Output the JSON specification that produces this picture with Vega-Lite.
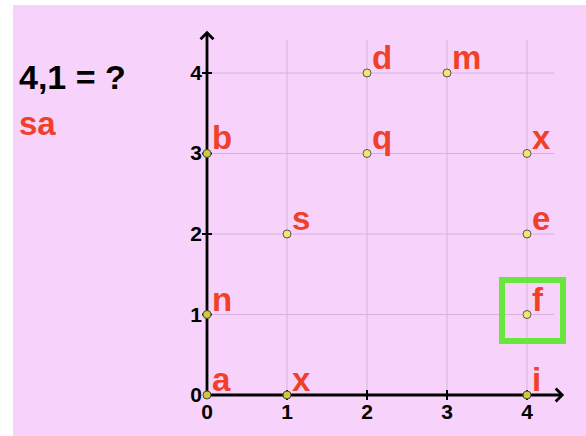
{
  "$schema": "https://vega.github.io/schema/vega-lite/v6.json",
  "width": 573,
  "height": 431,
  "autosize": {"type": "none"},
  "padding": {"left": 13, "top": 5, "right": 0, "bottom": 0},
  "background": "white",
  "config": {"view": {"fill": "#f7d3fb", "stroke": null}},
  "datasets": {
    "pts": [
      {"x": 0, "y": 0, "l": "a"}, {"x": 1, "y": 0, "l": "x"}, {"x": 4, "y": 0, "l": "i"},
      {"x": 0, "y": 1, "l": "n"}, {"x": 4, "y": 1, "l": "f"},
      {"x": 1, "y": 2, "l": "s"}, {"x": 4, "y": 2, "l": "e"},
      {"x": 0, "y": 3, "l": "b"}, {"x": 2, "y": 3, "l": "q"}, {"x": 4, "y": 3, "l": "x"},
      {"x": 2, "y": 4, "l": "d"}, {"x": 3, "y": 4, "l": "m"}
    ],
    "vgrid": [
      {"x": 1, "y": 0, "y2": 4.41}, {"x": 2, "y": 0, "y2": 4.41},
      {"x": 3, "y": 0, "y2": 4.41}, {"x": 4, "y": 0, "y2": 4.41}
    ],
    "hgrid": [
      {"y": 1, "x": 0, "x2": 4.34}, {"y": 2, "x": 0, "x2": 4.34},
      {"y": 3, "x": 0, "x2": 4.34}, {"y": 4, "x": 0, "x2": 4.34}
    ],
    "xaxis": [{"x": 0, "x2": 4.44, "y": 0}],
    "yaxis": [{"x": 0, "y": 0, "y2": 4.5}],
    "xticks": [{"x": 1, "y": 0}, {"x": 2, "y": 0}, {"x": 3, "y": 0}, {"x": 4, "y": 0}],
    "yticks": [{"x": 0, "y": 1}, {"x": 0, "y": 2}, {"x": 0, "y": 3}, {"x": 0, "y": 4}],
    "xarrow": [{"x": 4.44, "y": 0}],
    "yarrow": [{"x": 0, "y": 4.5}],
    "xlabels": [
      {"x": 0, "y": 0, "t": "0"}, {"x": 1, "y": 0, "t": "1"}, {"x": 2, "y": 0, "t": "2"},
      {"x": 3, "y": 0, "t": "3"}, {"x": 4, "y": 0, "t": "4"}
    ],
    "ylabels": [
      {"x": 0, "y": 0, "t": "0"}, {"x": 0, "y": 1, "t": "1"}, {"x": 0, "y": 2, "t": "2"},
      {"x": 0, "y": 3, "t": "3"}, {"x": 0, "y": 4, "t": "4"}
    ],
    "box": [{"x": 3.6875, "x2": 4.45, "y": 0.671, "y2": 1.4286}],
    "question": [{"x": -2.35, "y": 3.8, "t": "4,1 = ?"}],
    "answer": [{"x": -2.35, "y": 3.23, "t": "sa"}]
  },
  "encoding": {
    "x": {"field": "x", "type": "quantitative", "scale": {"domain": [-2.425, 4.7375], "nice": false, "zero": false}, "axis": null},
    "y": {"field": "y", "type": "quantitative", "scale": {"domain": [-0.5093, 4.8447], "nice": false, "zero": false}, "axis": null}
  },
  "layer": [
    {"data": {"name": "vgrid"}, "mark": {"type": "rule", "stroke": "#d9b1dc", "strokeWidth": 1},
     "encoding": {"y2": {"field": "y2"}}},
    {"data": {"name": "hgrid"}, "mark": {"type": "rule", "stroke": "#d9b1dc", "strokeWidth": 1},
     "encoding": {"x2": {"field": "x2"}}},
    {"data": {"name": "xaxis"}, "mark": {"type": "rule", "stroke": "black", "strokeWidth": 2.8},
     "encoding": {"x2": {"field": "x2"}}},
    {"data": {"name": "yaxis"}, "mark": {"type": "rule", "stroke": "black", "strokeWidth": 2.8},
     "encoding": {"y2": {"field": "y2"}}},
    {"data": {"name": "xticks"}, "mark": {"type": "point", "shape": "M 0 -1 L 0 1", "size": 100, "filled": false, "stroke": "black", "strokeWidth": 2, "opacity": 1}},
    {"data": {"name": "yticks"}, "mark": {"type": "point", "shape": "M -1 0 L 1 0", "size": 100, "filled": false, "stroke": "black", "strokeWidth": 2, "opacity": 1}},
    {"data": {"name": "xarrow"}, "mark": {"type": "point", "shape": "M -1 -1 L 0 0 L -1 1", "size": 170, "filled": false, "stroke": "black", "strokeWidth": 2.8, "opacity": 1}},
    {"data": {"name": "yarrow"}, "mark": {"type": "point", "shape": "M -1 1 L 0 0 L 1 1", "size": 170, "filled": false, "stroke": "black", "strokeWidth": 2.8, "opacity": 1}},
    {"data": {"name": "box"}, "mark": {"type": "rect", "filled": false, "stroke": "#68e63c", "strokeWidth": 6},
     "encoding": {"x2": {"field": "x2"}, "y2": {"field": "y2"}}},
    {"data": {"name": "pts"}, "transform": [{"filter": "datum.x != 0 && datum.y != 0"}],
     "mark": {"type": "point", "shape": "circle", "size": 64, "filled": true, "fill": "#f2e670", "stroke": "#555555", "strokeWidth": 1, "opacity": 1}},
    {"data": {"name": "pts"}, "transform": [{"filter": "datum.x == 0 || datum.y == 0"}],
     "mark": {"type": "point", "shape": "circle", "size": 64, "filled": true, "fill": "#cfcb35", "stroke": "#444444", "strokeWidth": 1, "opacity": 1}},
    {"data": {"name": "pts"}, "mark": {"type": "text", "align": "left", "baseline": "alphabetic", "dx": 5, "dy": -4, "font": "Liberation Sans", "fontWeight": "bold", "fontSize": 33, "fill": "#f0402a"},
     "encoding": {"text": {"field": "l"}}},
    {"data": {"name": "xlabels"}, "mark": {"type": "text", "align": "center", "baseline": "alphabetic", "dy": 24, "font": "Liberation Sans", "fontWeight": "bold", "fontSize": 21, "fill": "black"},
     "encoding": {"text": {"field": "t"}}},
    {"data": {"name": "ylabels"}, "mark": {"type": "text", "align": "right", "baseline": "middle", "dx": -5, "dy": 1, "font": "Liberation Sans", "fontWeight": "bold", "fontSize": 21, "fill": "black"},
     "encoding": {"text": {"field": "t"}}},
    {"data": {"name": "question"}, "mark": {"type": "text", "align": "left", "baseline": "alphabetic", "font": "Liberation Sans", "fontWeight": "bold", "fontSize": 34, "fill": "black"},
     "encoding": {"text": {"field": "t"}}},
    {"data": {"name": "answer"}, "mark": {"type": "text", "align": "left", "baseline": "alphabetic", "font": "Liberation Sans", "fontWeight": "bold", "fontSize": 33, "fill": "#f0402a"},
     "encoding": {"text": {"field": "t"}}}
  ]
}
